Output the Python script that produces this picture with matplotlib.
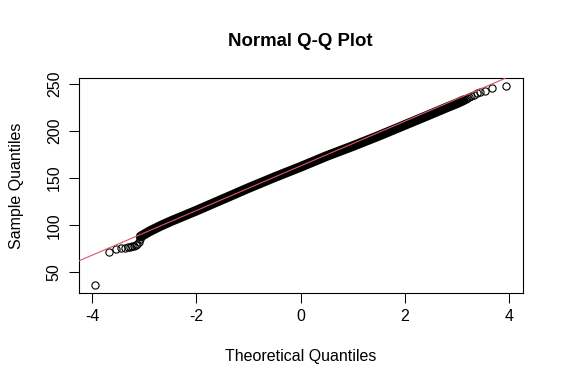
import matplotlib
matplotlib.use("Agg")
import matplotlib.pyplot as plt

plt.rcParams['font.family'] = ['Liberation Sans', 'DejaVu Sans']

# Dense central band of the Q-Q plot (theoretical quantile, sample quantile)
band_theo = [-3.07, -2.9, -2.7, -2.5, -2.0, -1.5, -1.0, -0.5, 0.0, 0.5, 1.0, 1.5, 2.0, 2.5, 2.8, 3.0, 3.12]
band_sample = [88.0, 93.5, 99.0, 104.0, 115.5, 127.5, 139.5, 151.0, 162.0, 173.5, 184.0, 195.0, 206.5, 218.0, 225.0, 229.5, 232.5]

# Individual tail points
low_theo = [-3.94, -3.67, -3.54, -3.45, -3.38, -3.32, -3.27, -3.23, -3.20, -3.17, -3.14, -3.11, -3.09]
low_sample = [36.5, 72.0, 74.5, 75.5, 76.0, 76.5, 77.0, 77.5, 78.0, 79.0, 80.5, 82.5, 85.0]
high_theo = [3.94, 3.67, 3.54, 3.45, 3.38, 3.32, 3.27, 3.23, 3.20, 3.17, 3.14]
high_sample = [247.5, 246.0, 243.0, 241.5, 240.0, 238.5, 237.5, 236.5, 235.5, 234.5, 233.5]

# qqline (through quartiles)
line_intercept = 163.0
line_slope = 23.7

x_ticks = [-4, -2, 0, 2, 4]
y_ticks = [50, 100, 150, 200, 250]

fig = plt.figure(figsize=(5.63, 3.91), dpi=100)
ax = fig.add_axes([78.7/563, 1 - 292.7/391, (522.7-78.7)/563, (292.7-78.3)/391])

ax.plot(band_theo, band_sample, color='black', lw=7.0, solid_capstyle='round', solid_joinstyle='round', zorder=2)
ax.plot(low_theo, low_sample, 'o', mfc='none', mec='black', ms=5.2, mew=0.8, zorder=3)
ax.plot(high_theo, high_sample, 'o', mfc='none', mec='black', ms=5.2, mew=0.8, zorder=3)
ax.axline((0, line_intercept), slope=line_slope, color='#DF536B', lw=0.8, zorder=4)

ax.set_xlim(-4.26, 4.26)
ax.set_ylim(28.3, 256)
ax.set_xticks(x_ticks)
ax.set_xticklabels([str(t) for t in x_ticks])
ax.set_yticks(y_ticks)
ax.set_yticklabels([str(t) for t in y_ticks], rotation=90, va='center')
ax.tick_params(direction='out', length=7.2, width=0.75, labelsize=11.5, colors='black')
ax.tick_params(axis='x', pad=4.5)
ax.tick_params(axis='y', pad=5)
for s in ax.spines.values():
    s.set_linewidth(0.8)
    s.set_color('black')

fig.text(300.7/563, 1 - 41.5/391, 'Normal Q-Q Plot', ha='center', va='center', fontsize=13.4, fontweight='bold')
fig.text(300.7/563, 1 - 357/391, 'Theoretical Quantiles', ha='center', va='center', fontsize=11.5)
fig.text(17/563, 1 - 185.5/391, 'Sample Quantiles', ha='center', va='center', rotation=90, fontsize=11.5)

fig.savefig('out.png', dpi=100)
